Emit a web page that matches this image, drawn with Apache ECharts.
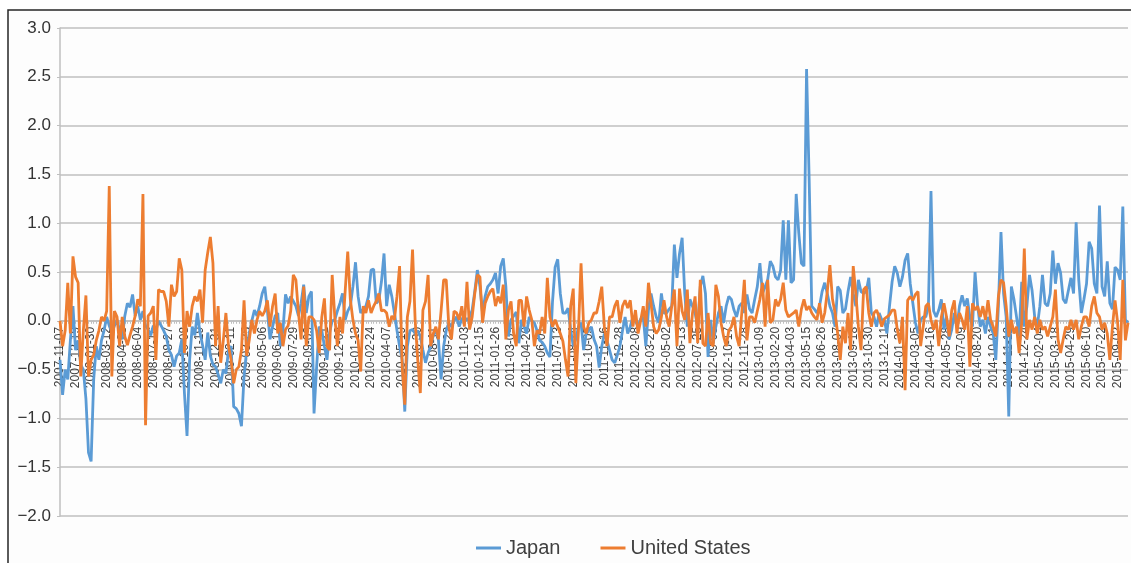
<!DOCTYPE html>
<html>
<head>
<meta charset="utf-8">
<script src="https://cdn.jsdelivr.net/npm/echarts@6/dist/echarts.min.js"></script>
<style>
html,body{margin:0;padding:0;background:#ffffff;}
#chart{width:1131px;height:563px;}
</style>
</head>
<body>
<div id="chart"></div>
<script>
// Weekly observations starting 2007-11-07 (413 weeks)
const startDate = '2007-11-07';
const weekCount = 413;
const yTicks = [-2.0, -1.5, -1.0, -0.5, 0.0, 0.5, 1.0, 1.5, 2.0, 2.5, 3.0];
const seriesNames = ['Japan', 'United States'];

const japan = [
-0.4,-0.76,-0.5,-0.6,-0.2,0.15,-0.3,-0.2,-0.45,-0.5,
-0.8,-1.35,-1.44,-0.6,-0.26,-0.4,-0.2,-0.1,0.04,-0.05,
-0.12,-0.05,0.01,-0.1,-0.19,0.05,0.18,0.14,0.27,0.05,
0.15,0.01,0.1,-0.05,-0.09,-0.15,-0.05,-0.1,0.0,-0.05,
-0.1,-0.16,-0.3,-0.35,-0.47,-0.36,-0.33,-0.19,-0.74,-1.18,
-0.4,-0.06,-0.15,0.08,-0.12,-0.25,-0.4,-0.12,-0.36,-0.45,
-0.47,-0.55,-0.64,-0.5,-0.54,-0.3,-0.26,-0.88,-0.9,-0.95,
-1.08,-0.57,-0.3,-0.13,0.0,0.11,0.05,0.15,0.28,0.35,
0.11,-0.19,-0.06,0.05,0.08,-0.26,-0.1,0.27,0.18,0.25,
0.2,0.15,0.05,0.18,0.37,0.08,0.25,0.3,-0.95,-0.47,
-0.06,-0.1,-0.26,-0.4,-0.12,0.0,0.01,0.1,0.18,0.28,
0.01,0.1,0.15,0.35,0.6,0.25,0.08,0.12,0.15,0.25,
0.52,0.53,0.18,0.21,0.4,0.69,0.15,0.37,0.25,0.08,
-0.1,-0.26,-0.4,-0.93,-0.26,-0.1,-0.09,-0.13,-0.1,-0.16,
-0.3,-0.43,-0.33,-0.26,-0.15,-0.09,-0.2,-0.6,-0.26,-0.1,
-0.02,-0.06,0.0,0.04,-0.06,0.02,0.04,0.0,0.04,0.11,
0.3,0.52,0.35,0.08,0.25,0.35,0.38,0.42,0.49,0.28,
0.56,0.64,0.35,-0.16,0.01,0.05,0.09,-0.23,0.01,-0.06,
-0.13,0.04,0.0,-0.02,-0.1,-0.2,-0.22,-0.26,-0.33,-0.37,
0.2,0.55,0.63,0.28,0.08,0.08,0.13,-0.09,-0.26,-0.19,
-0.06,-0.02,-0.3,-0.13,-0.1,-0.06,-0.19,-0.26,-0.48,-0.26,
-0.13,-0.2,-0.3,-0.4,-0.43,-0.35,-0.26,-0.1,0.04,-0.13,
-0.06,0.04,0.0,-0.06,0.02,0.04,-0.26,0.11,0.28,0.15,
0.04,-0.02,0.28,0.08,0.08,0.12,0.15,0.78,0.44,0.69,
0.85,0.28,-0.06,0.22,0.15,0.08,-0.06,0.35,0.46,0.28,
-0.37,0.01,-0.23,-0.06,0.08,0.15,-0.02,0.15,0.25,0.22,
0.11,0.04,0.15,0.18,0.08,0.27,0.12,0.08,0.22,0.35,
0.59,0.28,0.35,0.42,0.61,0.56,0.45,0.42,0.52,1.03,
0.42,1.03,0.39,0.42,1.3,0.9,0.59,0.56,2.58,1.45,
0.15,0.12,0.08,0.15,0.3,0.39,0.28,0.15,0.08,-0.06,
0.35,0.31,0.08,0.12,0.3,0.45,0.28,0.15,0.42,0.3,
0.28,0.3,0.44,0.08,0.04,-0.06,0.08,0.01,0.01,-0.13,
0.15,0.4,0.56,0.49,0.35,0.45,0.62,0.69,0.38,0.18,
-0.02,-0.13,0.01,0.04,0.04,0.15,1.33,0.1,0.04,0.11,
0.22,-0.09,0.04,-0.19,-0.09,0.08,-0.06,0.15,0.26,0.15,
0.23,0.04,-0.06,0.5,0.15,-0.06,0.01,-0.13,0.04,-0.06,
-0.13,-0.4,0.15,0.91,0.28,0.04,-0.98,0.35,0.22,0.04,
-0.16,0.4,-0.06,0.15,0.47,0.31,0.04,-0.06,0.15,0.47,
0.18,0.15,0.28,0.72,0.38,0.59,0.49,0.22,0.18,0.31,
0.44,0.28,1.01,0.42,0.08,0.22,0.38,0.81,0.74,0.38,
0.28,1.18,0.35,0.25,0.61,0.18,0.12,0.55,0.52,0.42,
1.17,0.01,-0.02
];

const unitedStates = [
0.0,-0.26,-0.1,0.39,-0.13,0.66,0.45,0.39,-0.57,-0.1,
0.26,-0.57,-0.4,-0.35,-0.2,-0.1,0.04,0.0,0.1,1.38,
-0.57,0.1,0.04,-0.26,0.04,-0.16,-0.25,-0.15,-0.06,0.05,
0.22,0.15,1.3,-1.07,0.05,0.08,0.15,-0.4,0.32,0.3,
0.3,0.2,-0.06,0.37,0.25,0.3,0.64,0.52,-0.33,0.1,
-0.06,0.15,0.25,0.2,0.32,-0.02,0.52,0.7,0.86,0.59,
-0.26,0.15,-0.43,-0.2,0.08,-0.26,-0.4,-0.64,-0.5,-0.47,
-0.3,0.21,-0.36,-0.2,0.01,-0.13,0.01,0.1,0.05,0.1,
0.21,-0.06,0.15,0.28,-0.13,-0.02,-0.26,-0.09,-0.05,0.1,
0.47,0.42,0.08,-0.19,0.35,-0.26,0.04,0.04,0.01,-0.1,
-0.33,0.04,0.23,-0.26,-0.3,0.47,0.04,-0.26,0.04,-0.13,
0.3,0.71,0.22,0.01,-0.13,-0.2,-0.52,0.15,0.08,0.21,
0.08,0.15,0.2,0.28,0.1,0.11,0.08,-0.06,0.05,0.01,
0.25,0.56,-0.47,-0.86,0.04,0.2,0.73,0.01,-0.4,-0.74,
0.11,0.2,0.47,-0.26,-0.13,-0.06,-0.19,0.1,0.42,0.42,
-0.06,-0.19,0.1,0.08,0.01,0.15,-0.06,0.4,-0.09,0.04,
0.28,0.47,0.45,-0.02,0.18,0.25,0.3,0.33,0.15,0.25,
0.18,0.37,-0.19,0.11,0.2,-0.13,-0.26,0.21,0.21,-0.06,
0.25,0.11,0.01,-0.26,-0.1,-0.13,0.04,-0.13,0.44,0.04,
-0.06,0.01,-0.06,-0.13,-0.21,-0.4,-0.57,0.15,0.33,-0.64,
-0.1,0.59,-0.06,-0.13,-0.02,0.01,0.08,0.08,0.2,0.35,
-0.06,-0.26,0.04,0.04,0.15,0.21,-0.02,0.15,0.21,0.13,
0.21,-0.06,0.11,-0.13,0.0,0.15,-0.06,0.39,0.18,-0.06,
-0.13,-0.09,0.04,0.21,0.04,-0.06,0.15,0.32,-0.26,0.33,
0.1,0.01,0.32,-0.23,0.08,0.25,-0.23,0.42,-0.23,-0.26,
0.08,-0.23,-0.26,0.37,0.25,-0.02,-0.16,-0.26,-0.1,-0.06,
0.04,-0.16,-0.26,0.08,0.42,-0.2,0.04,0.04,-0.02,0.1,
0.22,0.39,-0.06,0.42,-0.02,0.01,0.22,0.15,0.22,0.39,
0.11,0.04,0.06,0.08,0.11,-0.06,0.12,0.22,0.11,0.15,
0.08,0.04,0.01,0.18,-0.02,0.08,0.3,0.57,0.22,0.08,
-0.13,-0.4,-0.06,-0.23,0.08,-0.3,0.56,0.28,-0.06,-0.3,
0.32,0.35,0.08,-0.06,0.08,0.11,0.04,-0.06,0.02,0.04,
0.06,0.11,0.11,-0.09,-0.23,0.04,-0.71,0.21,0.25,0.21,
0.27,0.3,-0.26,-0.06,0.15,0.18,0.01,-0.09,0.01,-0.26,
0.04,0.18,0.04,-0.16,0.11,0.21,-0.13,0.08,0.01,-0.09,
0.15,-0.47,0.18,0.11,0.15,0.04,0.15,0.01,0.21,0.01,
-0.06,-0.16,0.25,0.42,0.39,0.15,-0.16,0.01,-0.13,-0.06,
-0.33,-0.02,0.74,-0.19,0.01,-0.09,0.04,-0.13,0.01,-0.09,
-0.06,-0.16,-0.06,0.04,0.32,-0.19,-0.33,-0.19,-0.06,-0.09,
0.01,-0.09,0.01,-0.19,-0.06,0.04,0.04,-0.06,0.15,0.25,
0.08,0.04,-0.09,-0.02,-0.13,-0.4,-0.06,0.21,-0.02,-0.4,
0.42,-0.2,-0.02
];

// Category labels: weekly dates
const categories = [];
(function(){
  const d0 = new Date(startDate + 'T00:00:00Z').getTime();
  for (let i = 0; i < weekCount; i++) {
    const d = new Date(d0 + i * 7 * 86400000);
    categories.push(d.toISOString().slice(0, 10));
  }
})();

const FONT = '"Liberation Sans", Arial, sans-serif';
const GRID_TOP = 28, GRID_BOTTOM = 47, H = 563;
const plotH = H - GRID_TOP - GRID_BOTTOM;
const yMin = yTicks[0], yMax = yTicks[yTicks.length - 1];
// distance (px) from plot bottom up to the zero line
const zeroOffset = plotH * (0 - yMin) / (yMax - yMin);

const chart = echarts.init(document.getElementById('chart'), null, {renderer: 'canvas'});
chart.setOption({
  backgroundColor: '#ffffff',
  animation: false,
  graphic: [{
    type: 'rect',
    z: -10,
    silent: true,
    shape: {x: 8, y: 10, width: 1200, height: 600},
    style: {fill: '#fdfdfd', stroke: '#262626', lineWidth: 1.5}
  }],
  grid: {left: 60, right: 3, top: GRID_TOP, bottom: GRID_BOTTOM, containLabel: false},
  legend: {
    data: seriesNames,
    left: 471,
    top: 533,
    icon: 'rect',
    itemWidth: 25,
    itemHeight: 3,
    itemGap: 40,
    textStyle: {fontFamily: FONT, fontSize: 20, color: '#404040'}
  },
  xAxis: {
    type: 'category',
    data: categories,
    boundaryGap: false,
    position: 'bottom',
    offset: -zeroOffset,
    axisLine: {onZero: false, lineStyle: {color: '#bfbfbf', width: 1.5}},
    axisTick: {show: true, interval: 0, length: 3, lineStyle: {color: '#bfbfbf'}},
    axisLabel: {
      interval: 5,
      rotate: 90,
      margin: 6,
      fontFamily: FONT,
      fontSize: 12,
      color: '#404040'
    },
    splitLine: {show: false}
  },
  yAxis: {
    type: 'value',
    min: yMin,
    max: yMax,
    interval: 0.5,
    axisLine: {show: true, lineStyle: {color: '#bfbfbf', width: 1.5}},
    axisTick: {show: true, length: 3, lineStyle: {color: '#bfbfbf'}},
    axisLabel: {
      margin: 9,
      fontFamily: FONT,
      fontSize: 17,
      color: '#333333',
      formatter: function (v) {
        const s = Math.abs(v).toFixed(1);
        return v < 0 ? '\u2212' + s : s;
      }
    },
    splitLine: {show: true, lineStyle: {color: '#bfbfbf', width: 1.5}}
  },
  series: [
    {
      name: seriesNames[0],
      type: 'line',
      data: japan,
      symbol: 'none',
      color: '#5B9BD5',
      lineStyle: {width: 2.8, color: '#5B9BD5'}
    },
    {
      name: seriesNames[1],
      type: 'line',
      data: unitedStates,
      symbol: 'none',
      color: '#ED7D31',
      lineStyle: {width: 2.8, color: '#ED7D31'}
    }
  ]
});
</script>
</body>
</html>
